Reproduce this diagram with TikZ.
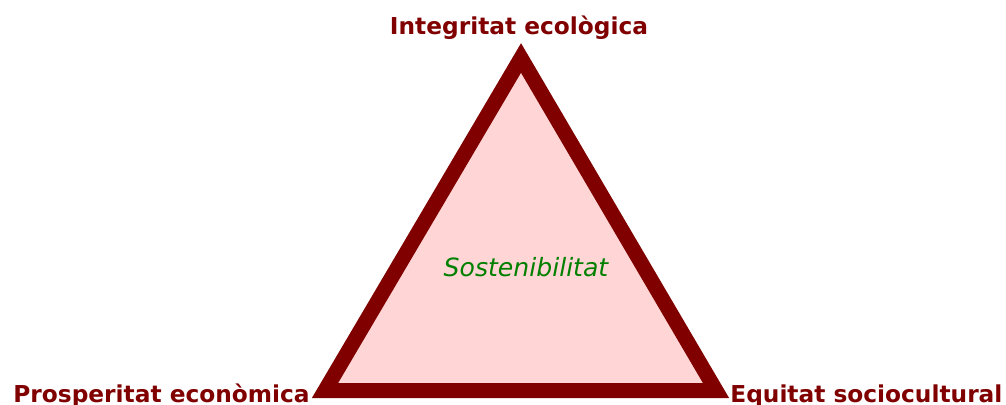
\documentclass[tikz,border=0pt]{standalone}
\usepackage{fontspec}
\setmainfont{DejaVu Sans}
\usetikzlibrary{positioning}
\definecolor{darkmaroon}{RGB}{128,0,0}
\definecolor{palepink}{RGB}{255,213,213}
\definecolor{leafgreen}{RGB}{0,128,0}
\tikzset{corner label/.style={font=\bfseries\fontsize{13.25}{16}\selectfont,
    text=darkmaroon, inner sep=0pt}}
\tikzset{triangle edge/.style={draw=darkmaroon, line width=0.3cm, line join=miter}}
\tikzset{center label/.style={font=\itshape\fontsize{14.3}{17}\selectfont, text=leafgreen, inner sep=0pt}}

\begin{document}
\begin{tikzpicture}
  [x=0.02cm, y=-0.02cm]
  \useasboundingbox (0,0) rectangle (1006,405);
  \coordinate (apex)  at (521, 58);
  \coordinate (left)  at (325, 390.5);
  \coordinate (right) at (716, 390.5);

  \filldraw [triangle edge, fill=palepink] (apex) -- (left) -- (right) -- cycle;

  \node [center label, anchor=base]      (sost)  at (526, 276) {Sostenibilitat};
  \node [corner label, anchor=base]      (integ) at (519,  35) {Integritat ecològica};
  \node [corner label, anchor=base east] (prosp) at (310, 402) {Prosperitat econòmica};
  \node [corner label, anchor=base west] (equit) at (730, 402) {Equitat sociocultural};
\end{tikzpicture}
\end{document}
